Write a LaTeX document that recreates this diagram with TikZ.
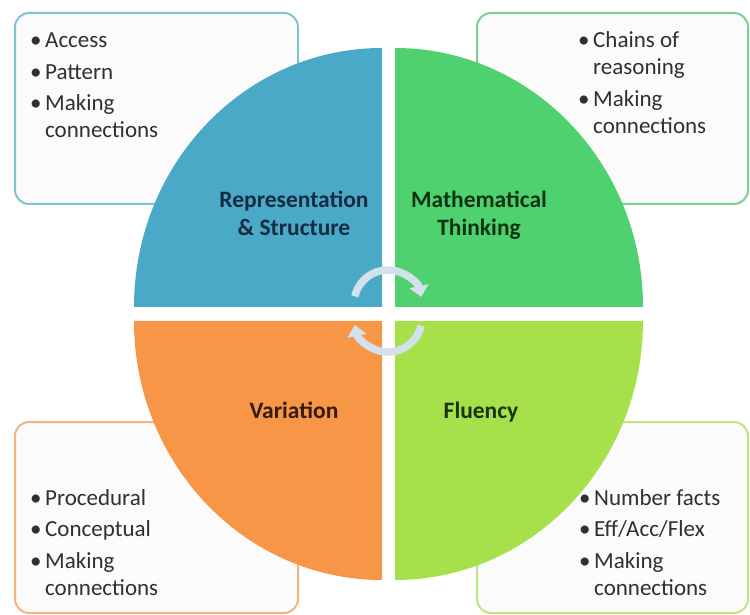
\documentclass[tikz,border=0pt]{standalone}
\usepackage{fontspec}
\setmainfont{Carlito}
\usetikzlibrary{arrows.meta}

\definecolor{repblue}{HTML}{4BA9C8}
\definecolor{thinkgreen}{HTML}{4FD16F}
\definecolor{varorange}{HTML}{F79646}
\definecolor{flulime}{HTML}{A6E04B}
\definecolor{repedge}{HTML}{7EC4D6}
\definecolor{thinkedge}{HTML}{7DD093}
\definecolor{varedge}{HTML}{F3B57E}
\definecolor{fluedge}{HTML}{C0E57F}
\definecolor{boxfill}{HTML}{FBFBFB}
\definecolor{pointgray}{HTML}{303030}
\definecolor{turngray}{HTML}{D3E1EC}
\definecolor{repink}{HTML}{142C42}
\definecolor{thinkink}{HTML}{0C3312}
\definecolor{varink}{HTML}{361A0C}
\definecolor{fluink}{HTML}{1B3309}

\begin{document}
\begin{tikzpicture}[x=1pt,y=1pt,
    infobox/.style={draw=#1, line width=2pt, rounded corners=14pt, fill=boxfill,
      minimum height=191pt, inner sep=0pt},
    points/.style={anchor=base west, inner sep=0pt, text=pointgray,
      font=\fontsize{23}{27}\selectfont},
    title/.style={anchor=base, align=center, inner sep=0pt,
      font=\bfseries\fontsize{23.5}{28}\selectfont},
    turnarrow/.style={draw=turngray, line width=7.5pt,
      -{Triangle[width=19pt,length=11pt]}}]
  \useasboundingbox (0,0) rectangle (750,614);

  % the four boxes behind the circle
  \node[infobox=repedge, minimum width=283pt] (repbox) at (156.5,505.5) {};
  \node[infobox=thinkedge, minimum width=271pt] (thinkbox) at (612.5,505.5) {};
  \node[infobox=varedge, minimum width=283pt] (varbox) at (156.5,96.5) {};
  \node[infobox=fluedge, minimum width=271pt] (flubox) at (612.5,96.5) {};

  % the split circle
  \coordinate (hub) at (388.5,300);
  \fill[repblue] ([shift={(-6.5,7)}]hub) -- ++(-248,0)
    arc[start angle=180, end angle=90, x radius=248, y radius=259] -- cycle;
  \fill[thinkgreen] ([shift={(6.5,7)}]hub) -- ++(0,259)
    arc[start angle=90, end angle=0, x radius=248, y radius=259] -- cycle;
  \fill[varorange] ([shift={(-6.5,-7)}]hub) -- ++(-248,0)
    arc[start angle=180, end angle=270, x radius=248, y radius=259] -- cycle;
  \fill[flulime] ([shift={(6.5,-7)}]hub) -- ++(248,0)
    arc[start angle=0, end angle=-90, x radius=248, y radius=259] -- cycle;

  % titles (base is the last line)
  \node[title, text=repink] (rep) at (294,378) {Representation\\\& Structure};
  \node[title, text=thinkink] (think) at (479,378) {Mathematical\\Thinking};
  \node[title, text=varink] (var) at (294,196) {Variation};
  \node[title, text=fluink] (flu) at (481,196) {Fluency};

  % bullet lists
  \node[points] (replist) at (30,566) {\begin{tabular}[t]{@{}p{15pt}@{}l@{}}
      \textbullet & Access\\[4.5pt]
      \textbullet & Pattern\\[4.5pt]
      \textbullet & Making\\
      & connections
    \end{tabular}};
  \node[points] (thinklist) at (578,566) {\begin{tabular}[t]{@{}p{15pt}@{}l@{}}
      \textbullet & Chains of\\
      & reasoning\\[4.5pt]
      \textbullet & Making\\
      & connections
    \end{tabular}};
  \node[points] (varlist) at (30,109) {\begin{tabular}[t]{@{}p{15pt}@{}l@{}}
      \textbullet & Procedural\\[4.5pt]
      \textbullet & Conceptual\\[4.5pt]
      \textbullet & Making\\
      & connections
    \end{tabular}};
  \node[points] (flulist) at (579,109) {\begin{tabular}[t]{@{}p{15pt}@{}l@{}}
      \textbullet & Number facts\\[4.5pt]
      \textbullet & Eff/Acc/Flex\\[4.5pt]
      \textbullet & Making\\
      & connections
    \end{tabular}};

  % cycle arrows in the middle
  \coordinate (upturn) at (388,310);
  \coordinate (downturn) at (388,296);
  \draw[turnarrow] ([shift={(167:34)}]upturn) arc[start angle=167, end angle=12, radius=34];
  \draw[turnarrow] ([shift={(-13:34)}]downturn) arc[start angle=-13, end angle=-168, radius=34];
\end{tikzpicture}
\end{document}
